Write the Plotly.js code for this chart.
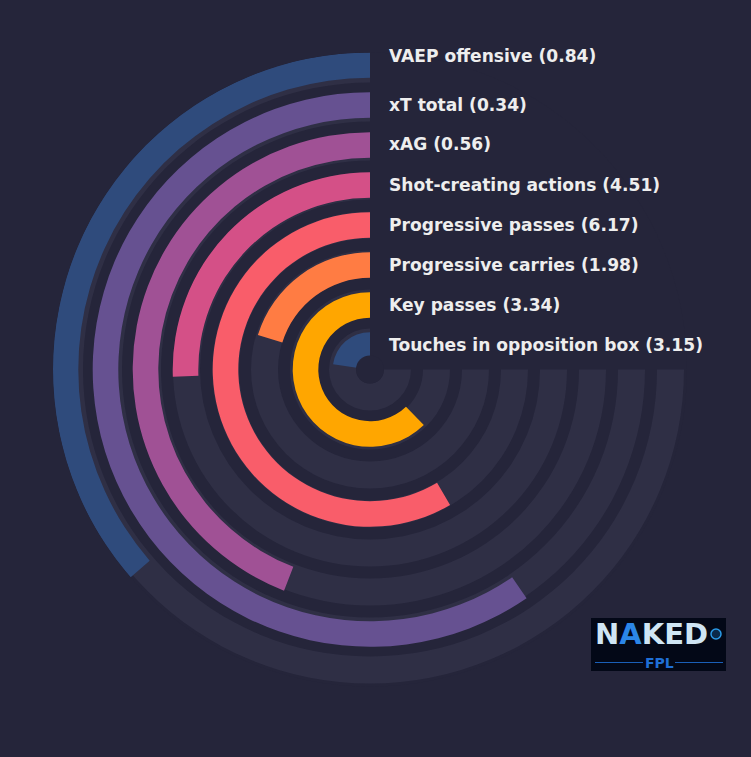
<!DOCTYPE html>
<html>
<head>
<meta charset="utf-8">
<script src="https://cdn.plot.ly/plotly-3.0.1.min.js"></script>
<style>
html,body{margin:0;padding:0;background:#25253a;}
#chart{width:751px;height:757px;}
</style>
</head>
<body>
<div id="chart"></div>
<script>
// Data (outer ring first)
const metrics = ['VAEP offensive', 'xT total', 'xAG', 'Shot-creating actions', 'Progressive passes', 'Progressive carries', 'Key passes', 'Touches in opposition box'];
const values = [0.84, 0.34, 0.56, 4.51, 6.17, 1.98, 3.34, 3.15];
const percentiles = [48.5, 79.4, 58.8, 34.1, 78.0, 27.0, 83.0, 30.4];
const colors = ['#2f4b7c', '#665191', '#a05195', '#d45087', '#f95d6a', '#ff7c43', '#ffa600', '#2f4b7c'];

const BG = '#25253a';
const TRACK = '#2f2f45';
const W = 751, H = 757;
const CX = 370, CY = 369.5, R = 317;
const MAXDEG = 270;

const idx = metrics.map((_, i) => i);
const trackBase = idx.map(i => 287 - 39 * i);
const barBase = idx.map(i => 291.7 - 40 * i);
const spans = percentiles.map(p => p / 100 * MAXDEG);

const tracks = {
  type: 'barpolar',
  theta: idx.map(() => MAXDEG / 2),
  width: idx.map(() => MAXDEG),
  base: trackBase,
  r: idx.map(() => 27),
  marker: {color: TRACK, line: {width: 0}},
  hoverinfo: 'skip',
  showlegend: false
};
const bars = {
  type: 'barpolar',
  theta: spans.map(s => s / 2),
  width: spans,
  base: barBase,
  r: idx.map(() => 25.6),
  marker: {color: colors, line: {width: 0}},
  hoverinfo: 'skip',
  showlegend: false
};
const hub = {
  type: 'scatterpolar',
  mode: 'markers',
  r: [0], theta: [0],
  marker: {size: 28, color: BG, line: {width: 0}},
  hoverinfo: 'skip',
  showlegend: false
};

const labelY = [55, 103.5, 143.5, 183.5, 223.5, 263.5, 303.5, 343.5];
const annotations = metrics.map((m, i) => ({
  xref: 'paper', yref: 'paper',
  x: 387 / W, y: 1 - (labelY[i] + 1) / H,
  xanchor: 'left', yanchor: 'middle',
  text: '<b>' + m + ' (' + values[i].toFixed(2) + ')</b>',
  showarrow: false,
  font: {family: 'DejaVu Sans', size: 17.1, color: '#eeeeee'}
}));

// Logo
annotations.push({
  xref: 'paper', yref: 'paper', x: 651 / W, y: 1 - 634 / H,
  xanchor: 'center', yanchor: 'middle', showarrow: false,
  text: '<b>N<span style="color:#2b86e8">A</span>KED</b>',
  font: {family: 'DejaVu Sans', size: 29, color: '#cfe5f4'}
});
annotations.push({
  xref: 'paper', yref: 'paper', x: 659 / W, y: 1 - 663 / H,
  xanchor: 'center', yanchor: 'middle', showarrow: false,
  text: '<b>FPL</b>',
  font: {family: 'DejaVu Sans', size: 14, color: '#1f6fd6'}
});

const px = x => x / W, py = y => 1 - y / H;
const shapes = [
  {type: 'rect', xref: 'paper', yref: 'paper', x0: px(591), x1: px(726), y0: py(671), y1: py(618), fillcolor: '#030817', line: {width: 0}, layer: 'above'},
  {type: 'line', xref: 'paper', yref: 'paper', x0: px(595), x1: px(643), y0: py(662.5), y1: py(662.5), line: {color: '#1a5fb8', width: 1}},
  {type: 'line', xref: 'paper', yref: 'paper', x0: px(675), x1: px(723), y0: py(662.5), y1: py(662.5), line: {color: '#1a5fb8', width: 1}},
  {type: 'circle', xref: 'paper', yref: 'paper', x0: px(711), x1: px(721), y0: py(639), y1: py(629), fillcolor: '#0b2a4a', line: {color: '#2a9be8', width: 1.5}}
];

const layout = {
  width: W, height: H,
  margin: {l: 0, r: 0, t: 0, b: 0},
  paper_bgcolor: BG,
  plot_bgcolor: BG,
  showlegend: false,
  polar: {
    domain: {x: [(CX - R) / W, (CX + R) / W], y: [1 - (CY + R) / H, 1 - (CY - R) / H]},
    bgcolor: BG,
    barmode: 'overlay',
    radialaxis: {range: [0, R], visible: false, showgrid: false},
    angularaxis: {rotation: 90, direction: 'counterclockwise', visible: false, showgrid: false, showline: false, ticks: ''}
  },
  annotations: annotations,
  shapes: shapes
};

Plotly.newPlot('chart', [tracks, bars, hub], layout, {displayModeBar: false, staticPlot: true});
</script>
</body>
</html>
